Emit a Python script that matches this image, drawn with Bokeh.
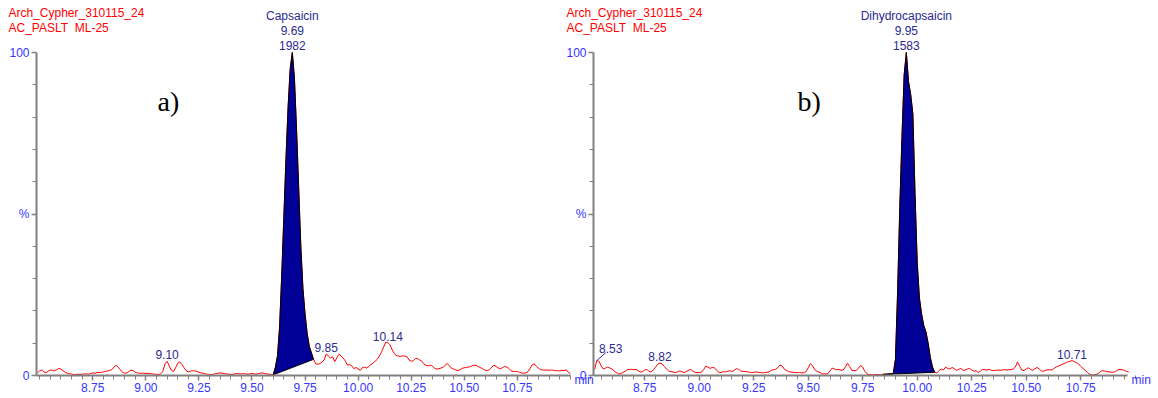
import numpy as np
from bokeh.plotting import figure
from bokeh.models import (Range1d, FixedTicker, Label, PrintfTickFormatter,
                          ColumnDataSource, LinearAxis)
from bokeh.embed import file_html
from bokeh.resources import INLINE

HEADER_1 = "Arch_Cypher_310115_24"
HEADER_2 = "AC_PASLT\u00a0\u00a0ML-25"
X_TICKS = [8.75, 9.00, 9.25, 9.50, 9.75, 10.00, 10.25, 10.50, 10.75]

# ---------------- panel a : Capsaicin ----------------
a_start = 8.49
a_step = 0.01
a_intensity = [
    0.8, 1.4, 1.7, 1.1, 0.9, 1.3, 1.7, 1.6, 1.5, 1.8,
    2.2, 2.0, 1.5, 1.0, 0.7, 0.6, 0.4, 0.3, 0.3, 0.4,
    0.3, 0.4, 0.5, 0.5, 0.4, 0.6, 0.8, 0.7, 0.9, 0.9,
    1.0, 1.1, 1.3, 1.4, 1.6, 1.8, 2.6, 3.2, 2.6, 1.8,
    1.0, 0.7, 0.8, 1.2, 1.7, 1.5, 1.0, 0.8, 0.7, 0.7,
    0.7, 0.6, 0.7, 0.6, 0.5, 0.4, 0.4, 0.3, 0.6, 1.2,
    3.6, 4.4, 3.0, 1.6, 1.2, 2.4, 3.8, 4.2, 3.4, 2.4,
    1.5, 1.1, 1.3, 1.5, 1.4, 1.3, 1.0, 0.8, 0.7, 0.5,
    0.4, 0.3, 0.3, 0.4, 0.6, 0.7, 0.8, 0.7, 0.6, 0.5,
    0.4, 0.3, 0.4, 0.5, 0.6, 0.5, 0.5, 0.6, 0.5, 0.4,
    0.5, 0.6, 0.5, 0.4, 0.6, 0.7, 0.8, 0.6, 0.5, 0.4,
    0.3, 0.2, 2.5, 6.0, 15.0, 31.0, 49.0, 67.0, 83.0, 95.0,
    100.0, 92.0, 76.0, 58.0, 40.0, 27.0, 19.0, 13.0, 9.0, 7.0,
    5.0, 3.6, 3.5, 3.7, 4.2, 4.8, 6.7, 6.0, 5.4, 5.8,
    4.3, 5.5, 6.6, 6.0, 5.4, 4.4, 3.2, 3.4, 3.0, 2.1,
    2.5, 2.0, 1.6, 2.4, 2.6, 2.3, 2.8, 3.4, 3.8, 4.4,
    5.0, 6.0, 7.2, 8.8, 10.3, 10.2, 9.5, 8.0, 6.8, 6.2,
    6.0, 5.9, 6.1, 6.0, 5.8, 4.8, 4.4, 4.6, 5.3, 5.2,
    4.8, 4.4, 3.6, 3.1, 3.0, 3.2, 2.9, 2.2, 2.0, 2.1,
    2.3, 2.5, 3.2, 3.7, 3.0, 2.2, 2.0, 1.7, 1.5, 1.8,
    2.2, 2.4, 2.5, 2.6, 2.8, 3.1, 3.2, 3.0, 2.6, 2.3,
    1.9, 1.6, 1.5, 1.9, 2.6, 3.2, 2.8, 2.3, 2.1, 2.4,
    2.8, 2.6, 2.2, 1.5, 1.2, 1.3, 1.2, 1.0, 0.8, 0.7,
    0.8, 1.2, 2.2, 3.3, 3.6, 2.8, 2.2, 1.8, 1.7, 1.7,
    1.7, 1.6, 1.7, 1.6, 1.5, 1.5, 1.4, 1.6, 1.5, 1.8,
    1.0, 0.6,
]
a_compound = "Capsaicin"
a_peak_rt = "9.69"
a_peak_area = "1982"
a_window = (9.60, 9.79)
a_small_peaks = ["9.10", "9.85", "10.14"]
a_axis = (8.485, 11.0)
a_letter = "a)"

# ---------------- panel b : Dihydrocapsaicin ----------------
b_start = 8.52
b_step = 0.01
b_intensity = [
    1.9, 4.6, 4.4, 3.0, 2.0, 2.3, 2.6, 2.3, 2.0, 1.4,
    0.9, 0.5, 0.6, 0.9, 1.3, 1.8, 1.9, 1.9, 1.8, 1.9,
    1.5, 1.1, 1.2, 1.7, 1.9, 1.2, 1.1, 1.8, 2.6, 3.5,
    3.8, 3.6, 2.8, 2.0, 1.4, 1.2, 1.1, 0.9, 1.1, 1.4,
    1.2, 0.9, 1.2, 1.6, 1.9, 1.4, 1.0, 0.9, 0.9, 1.0,
    1.8, 2.9, 2.6, 2.2, 2.5, 2.4, 1.6, 1.0, 0.9, 1.2,
    1.1, 1.3, 1.5, 1.2, 1.6, 2.1, 1.9, 1.4, 1.3, 1.2,
    1.2, 1.0, 0.9, 1.0, 1.1, 1.0, 0.9, 0.8, 0.9, 1.0,
    1.1, 1.6, 1.8, 1.9, 2.4, 3.2, 3.0, 2.0, 1.6, 1.2,
    1.1, 1.0, 0.9, 0.9, 0.9, 0.8, 0.9, 1.2, 2.4, 3.7,
    3.0, 1.8, 1.3, 1.0, 0.7, 0.5, 0.5, 0.6, 1.4, 2.3,
    2.0, 1.8, 1.9, 1.6, 1.7, 2.6, 3.8, 2.8, 1.6, 1.5,
    1.5, 2.2, 3.1, 2.6, 1.2, 0.5, 0.3, 0.3, 0.2, 0.3,
    0.3, 0.2, 0.3, 0.4, 0.4, 0.5, 0.5, 0.6, 5.0, 26.0,
    52.0, 74.0, 93.0, 100.0, 91.0, 87.0, 81.0, 56.0, 35.0, 24.0,
    19.0, 15.5, 13.5, 10.0, 5.6, 2.6, 1.0, 0.8, 1.5, 2.0,
    1.7, 2.6, 2.2, 2.0, 2.5, 2.1, 1.6, 1.9, 2.2, 1.6,
    1.7, 2.0, 2.2, 1.7, 1.3, 1.5, 0.9, 1.4, 1.9, 1.8,
    1.7, 1.9, 1.6, 1.5, 1.6, 1.7, 1.6, 1.7, 1.8, 1.7,
    1.8, 1.8, 2.0, 2.6, 4.2, 2.8, 1.7, 1.5, 2.0, 2.4,
    1.9, 1.6, 2.1, 2.5, 2.0, 1.4, 1.3, 1.6, 1.8, 1.7,
    1.8, 2.3, 2.7, 3.0, 3.3, 3.6, 3.9, 4.2, 4.4, 4.6,
    4.3, 4.0, 3.6, 2.8, 2.2, 1.6, 1.0, 0.4, 0.2, 0.2,
    0.3, 0.6, 1.2, 1.5, 1.4, 1.2, 1.1, 1.0, 1.0, 1.3,
    1.7, 1.9, 1.8, 1.6, 1.3, 1.1,
]
b_compound = "Dihydrocapsaicin"
b_peak_rt = "9.95"
b_peak_area = "1583"
b_window = (9.84, 10.08)
b_small_peaks = ["8.53", "8.82", "10.71"]
b_leader_peaks = ["8.53"]
b_axis = (8.515, 10.965)
b_letter = "b)"

RED = "#ff0000"
NAVY = "#2a2a90"
BLUE = "#3535ff"
GRAY = "#808080"
FILL = "#000096"
FONT = "Liberation Sans"

W, H = 1158, 398
# pixel layout of each panel: x pixel of axis start, pixels per minute
A_PX0, A_PPM = 36, 212.3
B_PX0, B_PPM = 593, 218.0
Y_ZERO_PX, Y_PPU = 23, 3.23      # zero line 23 px above bottom, px per % unit

a_lo = a_axis[0] - A_PX0 / A_PPM
b_lo = b_axis[0] - B_PX0 / B_PPM
y_lo = -Y_ZERO_PX / Y_PPU

p = figure(width=W, height=H, output_backend="svg", toolbar_location=None,
           x_range=Range1d(a_lo, a_lo + W / A_PPM),
           y_range=Range1d(y_lo, y_lo + H / Y_PPU),
           x_axis_type=None, y_axis_type=None,
           min_border_left=0, min_border_right=0, min_border_top=0, min_border_bottom=0)
p.extra_x_ranges = {"b": Range1d(b_lo, b_lo + W / B_PPM)}
p.outline_line_color = None
p.grid.visible = False
p.background_fill_color = "white"
p.border_fill_color = "white"


def style_axis(ax):
    ax.axis_line_color = GRAY
    ax.axis_line_width = 2
    ax.major_tick_line_color = GRAY
    ax.minor_tick_line_color = GRAY
    ax.major_tick_line_width = 1.5
    ax.minor_tick_line_width = 1
    ax.major_tick_in = 0
    ax.minor_tick_in = 0
    ax.major_tick_out = 5
    ax.minor_tick_out = 4
    ax.major_label_standoff = 2
    ax.major_label_text_font = FONT
    ax.major_label_text_font_size = "12px"
    ax.major_label_text_color = BLUE


def panel(rname, start, step, vals, axis_rng, compound, rt, area, window, small,
          letter, letter_dx, head_dx, leaders=(), ppm=212.3):
    t = np.round(start + step * np.arange(len(vals)), 2)
    y = np.array(vals, dtype=float)
    src = ColumnDataSource(dict(t=t, y=y))
    p.line("t", "y", source=src, line_color=RED, line_width=1, x_range_name=rname)
    m = (t >= window[0] - 1e-9) & (t <= window[1] + 1e-9)
    p.patch(t[m], y[m], fill_color=FILL, line_color="black", line_width=1,
            x_range_name=rname)

    xa = LinearAxis(x_range_name=rname, fixed_location=0)
    xa.ticker = FixedTicker(ticks=X_TICKS,
                            minor_ticks=list(np.round(np.arange(8.50, 11.001, 0.05), 2)))
    xa.formatter = PrintfTickFormatter(format="%.2f")
    xa.bounds = axis_rng
    style_axis(xa)
    p.add_layout(xa, "below")

    ya = LinearAxis(x_range_name=rname, fixed_location=axis_rng[0])
    ya.ticker = FixedTicker(ticks=[0, 50, 100], minor_ticks=[10, 20, 30, 40, 60, 70, 80, 90])
    ya.major_label_overrides = {50: "%"}
    ya.bounds = (0, 100)
    style_axis(ya)
    p.add_layout(ya, "left")

    x0 = axis_rng[0]
    for txt, dy in ((HEADER_1, 40), (HEADER_2, 25)):
        p.add_layout(Label(x=x0, y=100, x_offset=head_dx, y_offset=dy, text=txt,
                           x_range_name=rname, text_font=FONT, text_font_size="12px",
                           text_color=RED, text_align="left", text_baseline="middle"))
    rtv = float(rt)
    for txt, dy in ((compound, 37), (rt, 22), (area, 7)):
        p.add_layout(Label(x=rtv, y=100, y_offset=dy, text=txt, x_range_name=rname,
                           text_font=FONT, text_font_size="12px", text_color=NAVY,
                           text_align="center", text_baseline="middle"))
    for s in small:
        sv = float(s)
        i = int(np.argmin(np.abs(t - sv)))
        if s in leaders:
            p.segment(x0=[sv], y0=[y[i]], x1=[sv + 9 / ppm], y1=[y[i] + 8 / Y_PPU],
                      line_color=NAVY, line_width=1, x_range_name=rname)
            p.add_layout(Label(x=sv, y=y[i], x_offset=14, y_offset=8, text=s,
                               x_range_name=rname, text_font=FONT, text_font_size="12px",
                               text_color=NAVY, text_align="center", text_baseline="bottom"))
        else:
            p.add_layout(Label(x=sv, y=y[i], y_offset=2, text=s, x_range_name=rname,
                               text_font=FONT, text_font_size="12px", text_color=NAVY,
                               text_align="center", text_baseline="bottom"))
    p.add_layout(Label(x=x0, y=100, x_offset=letter_dx, y_offset=-49, text=letter,
                       x_range_name=rname, text_font="Liberation Serif",
                       text_font_size="28px", text_color="black", text_align="left",
                       text_baseline="middle"))
    p.add_layout(Label(x=axis_rng[1], y=0, x_offset=4, y_offset=-4, text="min",
                       x_range_name=rname, text_font=FONT, text_font_size="12px",
                       text_color=BLUE, text_align="left", text_baseline="middle"))


panel("default", a_start, a_step, a_intensity, a_axis, a_compound, a_peak_rt,
      a_peak_area, a_window, a_small_peaks, a_letter, 121, -28, ppm=A_PPM)
panel("b", b_start, b_step, b_intensity, b_axis, b_compound, b_peak_rt,
      b_peak_area, b_window, b_small_peaks, b_letter, 204, -27,
      leaders=b_leader_peaks, ppm=B_PPM)

open("out.html", "w").write(file_html(p, INLINE))
